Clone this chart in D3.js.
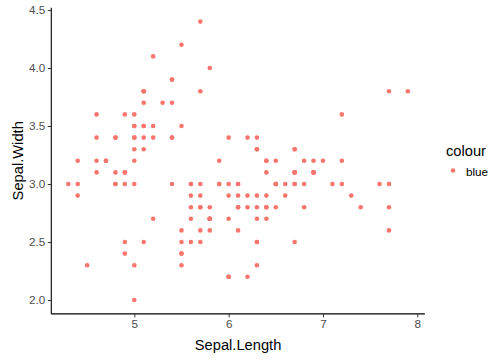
<!DOCTYPE html>
<html><head><meta charset="utf-8">
<script src="https://cdn.jsdelivr.net/npm/d3@7"></script>
<style>body{margin:0;background:#fff}svg{display:block;font-family:"Liberation Sans",Arial,sans-serif}</style>
</head><body><svg id="c" width="504" height="360"></svg>
<script>
const sepalLength = [5.1,4.9,4.7,4.6,5.0,5.4,4.6,5.0,4.4,4.9,5.4,4.8,4.8,4.3,5.8,5.7,5.4,5.1,5.7,5.1,5.4,5.1,4.6,5.1,4.8,5.0,5.0,5.2,5.2,4.7,4.8,5.4,5.2,5.5,4.9,5.0,5.5,4.9,4.4,5.1,5.0,4.5,4.4,5.0,5.1,4.8,5.1,4.6,5.3,5.0,
7.0,6.4,6.9,5.5,6.5,5.7,6.3,4.9,6.6,5.2,5.0,5.9,6.0,6.1,5.6,6.7,5.6,5.8,6.2,5.6,5.9,6.1,6.3,6.1,6.4,6.6,6.8,6.7,6.0,5.7,5.5,5.5,5.8,6.0,5.4,6.0,6.7,6.3,5.6,5.5,5.5,6.1,5.8,5.0,5.6,5.7,5.7,6.2,5.1,5.7,
6.3,5.8,7.1,6.3,6.5,7.6,4.9,7.3,6.7,7.2,6.5,6.4,6.8,5.7,5.8,6.4,6.5,7.7,7.7,6.0,6.9,5.6,7.7,6.3,6.7,7.2,6.2,6.1,6.4,7.2,7.4,7.9,6.4,6.3,6.1,7.7,6.3,6.4,6.0,6.9,6.7,6.9,5.8,6.8,6.7,6.7,6.3,6.5,6.2,5.9];
const sepalWidth = [3.5,3.0,3.2,3.1,3.6,3.9,3.4,3.4,2.9,3.1,3.7,3.4,3.0,3.0,4.0,4.4,3.9,3.5,3.8,3.8,3.4,3.7,3.6,3.3,3.4,3.0,3.4,3.5,3.4,3.2,3.1,3.4,4.1,4.2,3.1,3.2,3.5,3.6,3.0,3.4,3.5,2.3,3.2,3.5,3.8,3.0,3.8,3.2,3.7,3.3,
3.2,3.2,3.1,2.3,2.8,2.8,3.3,2.4,2.9,2.7,2.0,3.0,2.2,2.9,2.9,3.1,3.0,2.7,2.2,2.5,3.2,2.8,2.5,2.8,2.9,3.0,2.8,3.0,2.9,2.6,2.4,2.4,2.7,2.7,3.0,3.4,3.1,2.3,3.0,2.5,2.6,3.0,2.6,2.3,2.7,3.0,2.9,2.9,2.5,2.8,
3.3,2.7,3.0,2.9,3.0,3.0,2.5,2.9,2.5,3.6,3.2,2.7,3.0,2.5,2.8,3.2,3.0,3.8,2.6,2.2,3.2,2.8,2.8,2.7,3.3,3.2,2.8,3.0,2.8,3.0,2.8,3.8,2.8,2.8,2.6,3.0,3.4,3.1,3.0,3.1,3.1,3.1,2.7,3.2,3.3,3.0,2.5,3.0,3.4,3.0];
const xTicks = [5,6,7,8];
const yTicks = [2.0,2.5,3.0,3.5,4.0,4.5];
const legendTitle = "colour";
const legendLabels = ["blue"];
const pointColor = "#F8766D";

const svg = d3.select("#c");
const x = d3.scaleLinear().domain([5,8]).range([134.3,417.3]);
const y = d3.scaleLinear().domain([2,4.5]).range([300,10]);
const xMin = 4.12, xMax = 8.08, yMin = 1.88, yMax = 4.52;

// points
svg.append("g").selectAll("circle").data(sepalLength.map((d,i)=>[d,sepalWidth[i]]))
  .enter().append("circle")
  .attr("cx", d=>x(d[0])).attr("cy", d=>y(d[1])).attr("r", 2.3)
  .attr("fill", pointColor);

// x axis
const gx = svg.append("g").attr("transform", `translate(0,${y(yMin)})`)
  .call(d3.axisBottom(x).tickValues(xTicks).tickFormat(d3.format("d")).tickSize(3.5).tickPadding(2.5));
gx.select(".domain").attr("d", `M${x(xMin)},0H${x(xMax)}`).attr("stroke","#000").attr("stroke-width",1.1);
gx.selectAll(".tick line").attr("stroke","#333");
gx.selectAll(".tick text").attr("fill","#4D4D4D").attr("font-size","11.7px").attr("font-family","Liberation Sans, Arial, sans-serif");

// y axis
const gy = svg.append("g").attr("transform", `translate(${x(xMin)},0)`)
  .call(d3.axisLeft(y).tickValues(yTicks).tickFormat(d3.format(".1f")).tickSize(3.5).tickPadding(2.5));
gy.select(".domain").attr("d", `M0,${y(yMin)}V${y(yMax)}`).attr("stroke","#000").attr("stroke-width",1.1);
gy.selectAll(".tick line").attr("stroke","#333");
gy.selectAll(".tick text").attr("fill","#4D4D4D").attr("font-size","11.7px").attr("font-family","Liberation Sans, Arial, sans-serif");

// axis titles
svg.append("text").attr("x", (x(xMin)+x(xMax))/2).attr("y", 350).attr("text-anchor","middle")
  .attr("font-size","14.7px").attr("fill","#000").text("Sepal.Length");
svg.append("text").attr("transform", `translate(23,${(y(yMin)+y(yMax))/2}) rotate(-90)`).attr("text-anchor","middle")
  .attr("font-size","14.7px").attr("fill","#000").text("Sepal.Width");

// legend
svg.append("text").attr("x", 446).attr("y", 156).attr("font-size","14.7px").attr("fill","#000").text(legendTitle);
const lg = svg.append("g").selectAll("g").data(legendLabels).enter().append("g");
lg.append("circle").attr("cx", 453).attr("cy", (d,i)=>170.5+i*17).attr("r",2.3).attr("fill",pointColor);
lg.append("text").attr("x", 466).attr("y", (d,i)=>175.5+i*17).attr("font-size","11.7px").attr("fill","#000").text(d=>d);
</script></body></html>
